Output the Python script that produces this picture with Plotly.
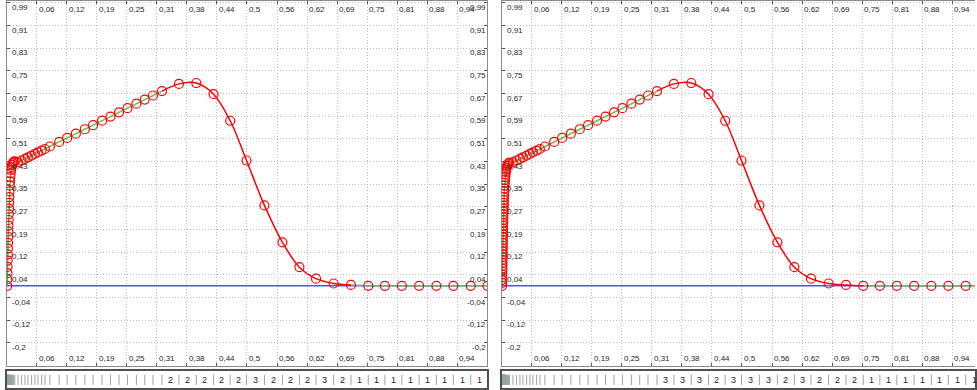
import plotly.graph_objects as go

# ---------------- data ----------------
x_tick_vals = [1/16, 2/16, 3/16, 4/16, 5/16, 6/16, 7/16, 8/16, 9/16, 10/16, 11/16, 12/16, 13/16, 14/16, 15/16]
x_tick_text = ["0,06", "0,12", "0,19", "0,25", "0,31", "0,38", "0,44", "0,5", "0,56", "0,62",
               "0,69", "0,75", "0,81", "0,88", "0,94"]
y_tick_vals = [-0.2, -0.1207, -0.0413, 0.0380, 0.1173, 0.1967, 0.2760, 0.3553, 0.4347, 0.5140,
               0.5933, 0.6727, 0.7520, 0.8313, 0.9107, 0.99]
y_tick_text = ["-0,2", "-0,12", "-0,04", "0,04", "0,12", "0,19", "0,27", "0,35", "0,43", "0,51",
               "0,59", "0,67", "0,75", "0,83", "0,91", "0,99"]

# steep rise near x = 0 (left panel)
left_rise_x = [0.0015, 0.0015, 0.0018, 0.0020, 0.0022, 0.0025, 0.0028, 0.0030, 0.0033, 0.0036,
               0.0040, 0.0043, 0.0047, 0.0050, 0.0054, 0.0058, 0.0062, 0.0067, 0.0072, 0.0078,
               0.0085, 0.0093, 0.0102, 0.0113, 0.0127, 0.0145, 0.0170]
left_rise_y = [0.000, 0.022, 0.044, 0.066, 0.088, 0.110, 0.130, 0.150, 0.170, 0.190,
               0.210, 0.230, 0.250, 0.270, 0.290, 0.310, 0.330, 0.350, 0.365, 0.380,
               0.393, 0.405, 0.415, 0.423, 0.429, 0.433, 0.435]

# steep rise near x = 0 (right panel, denser sampling)
right_rise_x = [0.0010, 0.0011, 0.0012, 0.0013, 0.0014, 0.0015, 0.0016, 0.0017, 0.0018, 0.0019,
                0.0020, 0.0021, 0.0022, 0.0023, 0.0024, 0.0025, 0.0026, 0.0027, 0.0028, 0.0029,
                0.0030, 0.0031, 0.0032, 0.0034, 0.0036, 0.0038, 0.0040, 0.0042, 0.0044, 0.0046,
                0.0048, 0.0050, 0.0053, 0.0056, 0.0059, 0.0062, 0.0066, 0.0070, 0.0075, 0.0081,
                0.0088, 0.0096, 0.0105, 0.0116, 0.0129, 0.0145, 0.0165]
right_rise_y = [0.000, 0.010, 0.020, 0.030, 0.040, 0.050, 0.060, 0.070, 0.080, 0.090,
                0.100, 0.110, 0.120, 0.130, 0.140, 0.150, 0.160, 0.170, 0.180, 0.190,
                0.200, 0.210, 0.220, 0.230, 0.240, 0.250, 0.260, 0.270, 0.280, 0.290,
                0.300, 0.310, 0.320, 0.330, 0.340, 0.350, 0.360, 0.370, 0.380, 0.390,
                0.398, 0.406, 0.413, 0.419, 0.424, 0.428, 0.431]

# straight section (shared by both panels)
ramp_x = [0.0237, 0.0313, 0.0382, 0.0444, 0.0521, 0.0589, 0.0652, 0.0728, 0.0797, 0.0901,
          0.1094, 0.1260, 0.1440, 0.1627, 0.1799, 0.1986, 0.2161, 0.2339, 0.2514, 0.2700,
          0.2873, 0.3045]
ramp_y = [0.4318, 0.4381, 0.4438, 0.4490, 0.4554, 0.4610, 0.4663, 0.4726, 0.4783, 0.4870,
          0.5031, 0.5169, 0.5318, 0.5474, 0.5617, 0.5773, 0.5918, 0.6066, 0.6212, 0.6367,
          0.6511, 0.6654]

# peak and tail (shared by both panels)
tail_x = [0.3232, 0.3585, 0.3946, 0.4305, 0.4651, 0.4990, 0.5363, 0.5737, 0.6090, 0.6436,
          0.6802, 0.7163, 0.7522, 0.7868, 0.8221, 0.8580, 0.8939, 0.9292, 0.9653, 1.0]
tail_y = [0.6809, 0.706, 0.709, 0.670, 0.577, 0.438, 0.281, 0.152, 0.065, 0.025,
          0.008, 0.003, 0.0, 0.0, 0.0, 0.0, 0.0, 0.0, 0.0, 0.0]

# segment labels shown in the lower strip (one per tail interval)
left_degrees = [2, 2, 2, 2, 2, 3, 2, 2, 2, 3, 2, 1, 1, 1, 1, 1, 1, 1, 1]
right_degrees = [3, 3, 3, 2, 3, 3, 3, 2, 3, 2, 2, 2, 1, 1, 1, 1, 1, 1, 1]

# ---------------- layout constants ----------------
W, H = 977, 390
FONT = "Liberation Sans, Arial, sans-serif"
RED = "#ff0000"
GREEN = "#5cc05c"
BLUE = "#4a5ae0"
GRID = "#bcbcbc"
FRAME = "#8a8a8a"
TXT = "#262626"

Y_RANGE = [-0.279, 0.9958]
MAIN_BOTTOM_PX = 365.5
STRIP_TOP_PX, STRIP_BOT_PX = 371, 388
PANEL_W = 481.8

fig = go.Figure()
annotations = []


def px2paper_x(px):
    return px / W


def py2paper_y(py):
    return (H - py) / H


def add_panel(idx, left_px, rise_x, rise_y, degrees):
    xa = "x" if idx == 1 else f"x{idx}"
    ya = "y" if idx == 1 else f"y{idx}"
    xs = "x%d" % (idx + 2)
    ys = "y%d" % (idx + 2)
    xr_max = min(1.0, (W - left_px) / PANEL_W)
    right_px = min(left_px + PANEL_W, W)

    all_x = rise_x + ramp_x + tail_x
    all_y = rise_y + ramp_y + tail_y
    n_red = sum(1 for d in degrees if d != 1)

    # zero line
    fig.add_trace(go.Scatter(x=[0, 1], y=[0, 0], mode="lines", xaxis=xa, yaxis=ya,
                             line=dict(color=BLUE, width=1.5), hoverinfo="skip", showlegend=False))
    # linear pieces (green)
    lin1_x = rise_x + ramp_x + [tail_x[0]]
    lin1_y = rise_y + ramp_y + [tail_y[0]]
    fig.add_trace(go.Scatter(x=lin1_x, y=lin1_y, mode="lines", xaxis=xa, yaxis=ya,
                             line=dict(color=GREEN, width=1.5), showlegend=False))
    fig.add_trace(go.Scatter(x=tail_x[n_red:], y=tail_y[n_red:], mode="lines", xaxis=xa, yaxis=ya,
                             line=dict(color=GREEN, width=1.5), showlegend=False))
    # curved pieces (red)
    fig.add_trace(go.Scatter(x=tail_x[:n_red + 1], y=tail_y[:n_red + 1], mode="lines",
                             xaxis=xa, yaxis=ya, line=dict(color=RED, width=1.5, shape="spline",
                                                          smoothing=1.0), showlegend=False))
    # knots
    fig.add_trace(go.Scatter(x=all_x, y=all_y, mode="markers", xaxis=xa, yaxis=ya,
                             marker=dict(symbol="circle-open", size=9, color=RED,
                                         line=dict(width=1.2, color=RED)), showlegend=False))

    # strip marks at every knot
    mx, my = [], []
    for v in all_x:
        mx += [v, v, None]
        my += [0.18, 0.78, None]
    fig.add_trace(go.Scatter(x=mx, y=my, mode="lines", xaxis=xs, yaxis=ys,
                             line=dict(color="#9aa59a", width=1), hoverinfo="skip", showlegend=False))
    for i, d in enumerate(degrees):
        annotations.append(dict(x=(tail_x[i] + tail_x[i + 1]) / 2, y=0.5, xref=xs, yref=ys,
                                text=str(d), showarrow=False, font=dict(family=FONT, size=9, color=TXT),
                                xanchor="center", yanchor="middle"))

    dom_x = [px2paper_x(left_px), px2paper_x(right_px)]
    axis_common = dict(showline=True, linecolor=FRAME, linewidth=1, zeroline=False,
                       showticklabels=False, ticks="inside", ticklen=3, tickcolor="#555",
                       showgrid=True, gridcolor=GRID, griddash="1px,2px", gridwidth=1)
    fig.layout[("xaxis" if idx == 1 else f"xaxis{idx}")] = dict(
        domain=dom_x, range=[0, xr_max], tickvals=x_tick_vals, anchor=ya, side="bottom",
        mirror="ticks", **axis_common)
    fig.layout[("yaxis" if idx == 1 else f"yaxis{idx}")] = dict(
        domain=[py2paper_y(MAIN_BOTTOM_PX), 1], range=Y_RANGE, tickvals=y_tick_vals, anchor=xa,
        mirror=("ticks" if idx == 1 else False), **axis_common)
    fig.layout["xaxis%d" % (idx + 2)] = dict(
        domain=dom_x, range=[0, xr_max], anchor=ys, showline=True, linecolor="#505050",
        linewidth=1.5, mirror=True, showgrid=False, zeroline=False, showticklabels=False, ticks="")
    fig.layout["yaxis%d" % (idx + 2)] = dict(
        domain=[py2paper_y(STRIP_BOT_PX), py2paper_y(STRIP_TOP_PX)], range=[0, 1], anchor=xs,
        showline=True, linecolor="#505050", linewidth=1.5, mirror=True, showgrid=False,
        zeroline=False, showticklabels=False, ticks="")

    lab_font = dict(family=FONT, size=8, color=TXT)
    for v, t in zip(x_tick_vals, x_tick_text):
        annotations.append(dict(x=v, y=py2paper_y(8.3), xref=xa, yref="paper", text=t,
                                showarrow=False, xanchor="left", yanchor="middle", xshift=0,
                                font=lab_font))
        annotations.append(dict(x=v, y=py2paper_y(358.5), xref=xa, yref="paper", text=t,
                                showarrow=False, xanchor="left", yanchor="middle", xshift=0,
                                font=lab_font))
    for v, t in zip(y_tick_vals, y_tick_text):
        annotations.append(dict(x=px2paper_x(left_px), y=v, xref="paper", yref=ya, text=t,
                                showarrow=False, xanchor="left", yanchor="middle", xshift=3,
                                yshift=-4.7, font=lab_font))
        annotations.append(dict(x=1.0, y=v, xref=xa, yref=ya, text=t,
                                showarrow=False, xanchor="right", yanchor="middle", xshift=1,
                                yshift=-4.7, font=lab_font))


add_panel(1, 6.6, left_rise_x, left_rise_y, left_degrees)
add_panel(2, 502.6, right_rise_x, right_rise_y, right_degrees)

fig.update_layout(width=W, height=H, margin=dict(l=0, r=0, t=0, b=0),
                  paper_bgcolor="white", plot_bgcolor="white", showlegend=False,
                  annotations=annotations, font=dict(family=FONT, size=8, color=TXT))

fig.write_html("out.html", config={"displayModeBar": False},
               post_script="document.body.style.margin='0';document.body.style.overflow='hidden';")
